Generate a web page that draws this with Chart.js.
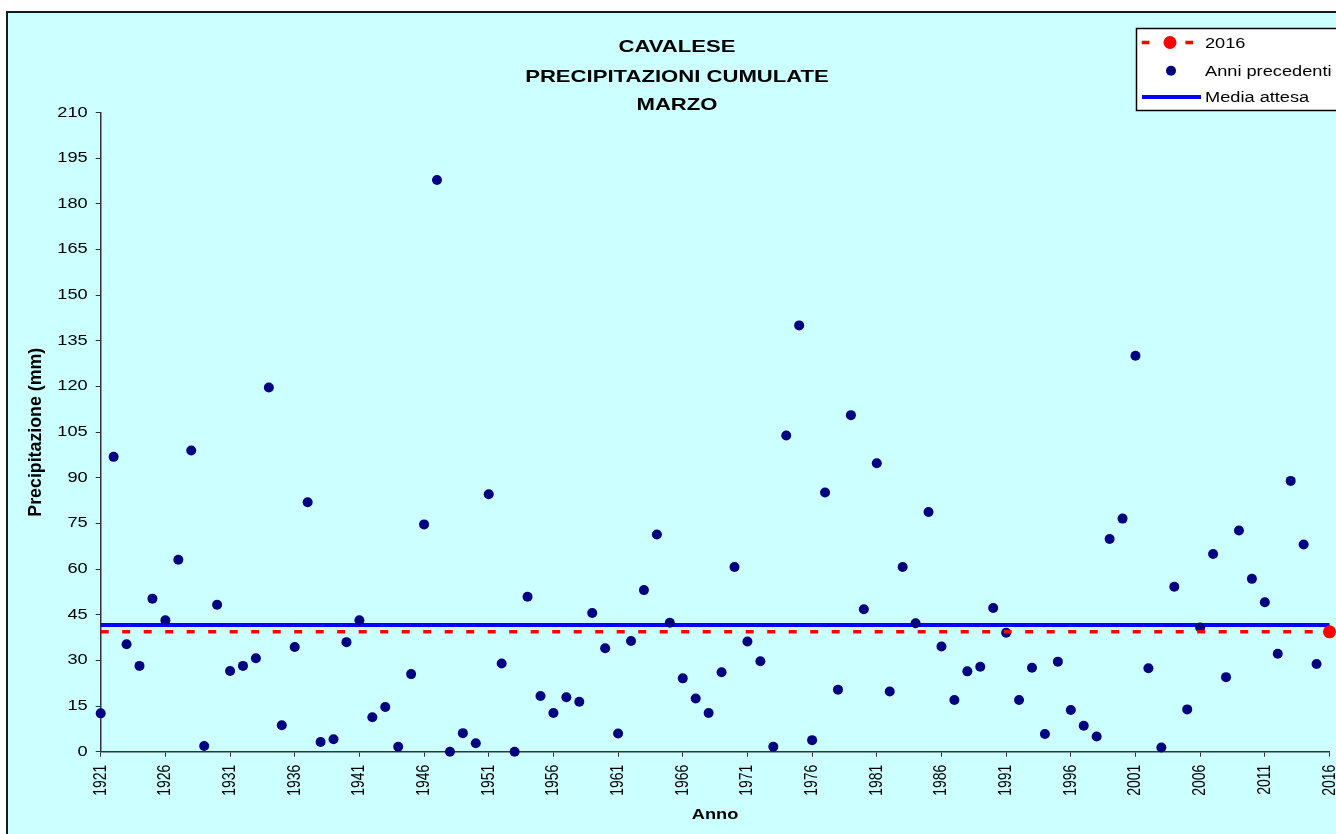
<!DOCTYPE html>
<html>
<head>
<meta charset="utf-8">
<script src="https://cdn.jsdelivr.net/npm/chart.js@4"></script>
<style>
html,body{margin:0;padding:0;background:#fff;}
#wrap{width:1336px;height:834px;position:relative;}
</style>
</head>
<body>
<div id="wrap"><canvas id="c"></canvas></div>
<script>
// ---------------- DATA ----------------
const years = [1921,1922,1923,1924,1925,1926,1927,1928,1929,1930,1931,1932,1933,1934,1935,1936,1937,1938,1939,1940,
1941,1942,1943,1944,1945,1946,1947,1948,1949,1950,1951,1952,1953,1954,1955,1956,1957,1958,1959,1960,
1961,1962,1963,1964,1965,1966,1967,1968,1969,1970,1971,1972,1973,1974,1975,1976,1977,1978,1979,1980,
1981,1982,1983,1984,1985,1986,1987,1988,1989,1990,1991,1992,1993,1994,1995,1996,1997,1998,1999,2000,
2001,2002,2003,2004,2005,2006,2007,2008,2009,2010,2011,2012,2013,2014,2015,2016];

// Anni precedenti: 1921 .. 2015
const anniPrecedenti = [12.6,96.9,35.3,28.2,50.3,43.2,63.1,99.0,1.9,48.3,
26.5,28.2,30.7,119.7,8.7,34.4,82.0,3.2,4.1,36.0,
43.2,11.3,14.7,1.6,25.5,74.7,187.9,0.0,6.1,2.8,
84.6,29.0,0.0,50.9,18.3,12.7,17.9,16.4,45.6,34.0,
6.0,36.4,53.1,71.4,42.4,24.1,17.5,12.7,26.1,60.7,
36.2,29.7,1.6,103.9,140.1,3.8,85.2,20.4,110.6,46.8,
94.8,19.8,60.7,42.2,78.8,34.6,17.0,26.4,27.9,47.2,
39.1,17.0,27.6,5.8,29.6,13.7,8.5,5.0,69.9,76.6,
130.1,27.4,1.4,54.2,13.9,40.8,65.0,24.5,72.7,56.8,
49.1,32.2,89.0,68.1,28.8];

const valore2016 = 39.4;
const mediaAttesa = 41.6;
const firstYear = '1921';
const lastYear = '2016';

const xTickYears = [1921,1926,1931,1936,1941,1946,1951,1956,1961,1966,1971,1976,1981,1986,1991,1996,2001,2006,2011,2016];
const yMin = 0, yMax = 210, yStep = 15;

const titleLines = ['CAVALESE','PRECIPITAZIONI CUMULATE','MARZO'];
const legendLabels = ['2016','Anni precedenti','Media attesa'];
const xTitle = 'Anno';
const yTitle = 'Precipitazione (mm)';

// ---------------- STYLE ----------------
const FONT = "'Liberation Sans', Arial, sans-serif";
const TEXT_SX = 1.3;        // horizontal text stretch of the reference picture
const YTITLE_LEN_SX = 1.27; // the rotated y title is also longer along its own direction
const RED = '#FF0000', NAVY = '#000080', BLUE = '#0000FF';

const canvas = document.getElementById('c');
const ctx = canvas.getContext('2d');
const origFill = ctx.fillText.bind(ctx);
ctx.fillText = function(text, x, y, maxWidth){
  let m = ctx.getTransform();
  if (text === yTitle) {
    m = m.multiply(new DOMMatrix([YTITLE_LEN_SX,0,0,1,x*(1-YTITLE_LEN_SX),0]));
  }
  const px = m.a * x + m.c * y + m.e;
  ctx.save();
  ctx.setTransform(new DOMMatrix([TEXT_SX,0,0,1,px*(1-TEXT_SX),0]).multiply(m));
  origFill(text, x, y);
  ctx.restore();
};

Chart.defaults.font.family = FONT;
Chart.defaults.color = '#000';

const bgPlugin = {
  id: 'bg',
  beforeDraw(chart){
    const c = chart.ctx, W = chart.width, H = chart.height;
    c.save();
    c.fillStyle = '#fff'; c.fillRect(0,0,W,H);
    c.fillStyle = '#CCFFFF'; c.fillRect(7,12,W-7,H-12);
    c.strokeStyle = '#1a1a1a'; c.lineWidth = 2;
    c.beginPath(); c.moveTo(7,H); c.lineTo(7,12); c.lineTo(W,12); c.stroke();
    c.restore();
  }
};

const decoPlugin = {
  id: 'deco',
  afterDraw(chart){
    const c = chart.ctx;
    c.save();
    // title
    c.fillStyle = '#000';
    c.font = 'bold 17px ' + FONT;
    c.textAlign = 'center';
    c.textBaseline = 'alphabetic';
    const ty = [52, 82, 110];
    titleLines.forEach((t,i) => c.fillText(t, 677, ty[i]));
    // legend box
    c.fillStyle = '#fff';
    c.fillRect(1136, 28, 220, 82);
    c.strokeStyle = '#000'; c.lineWidth = 1.5;
    c.strokeRect(1136.5, 28.5, 220, 82);
    const rows = [42.5, 70.7, 97];
    // 2016
    c.strokeStyle = RED; c.lineWidth = 3.5; c.setLineDash([7.7, 36]);
    c.beginPath(); c.moveTo(1141.7, rows[0]); c.lineTo(1200, rows[0]); c.stroke();
    c.setLineDash([]);
    c.fillStyle = RED; c.beginPath(); c.arc(1170, rows[0], 6.5, 0, Math.PI*2); c.fill();
    // anni precedenti
    c.fillStyle = NAVY; c.beginPath(); c.arc(1171, rows[1], 5, 0, Math.PI*2); c.fill();
    // media
    c.strokeStyle = BLUE; c.lineWidth = 4;
    c.beginPath(); c.moveTo(1142, rows[2]); c.lineTo(1201, rows[2]); c.stroke();
    // texts
    c.fillStyle = '#000';
    c.font = '14px ' + FONT;
    c.textAlign = 'left';
    c.textBaseline = 'middle';
    legendLabels.forEach((t,i) => c.fillText(t, 1205, rows[i] + 1.5));
    c.restore();
  }
};

new Chart(ctx, {
  type: 'line',
  data: {
    labels: years.map(String),
    datasets: [
      {
        label: legendLabels[0],
        data: [{x:firstYear, y:valore2016},{x:lastYear, y:valore2016}],
        borderColor: RED, borderWidth: 3.5, borderDash: [8,13.5],
        pointRadius: [0, 6.5], pointHoverRadius: [0, 6.5],
        pointBackgroundColor: RED, pointBorderColor: RED, pointBorderWidth: 0,
        clip: false, order: 0
      },
      {
        label: legendLabels[1],
        data: anniPrecedenti,
        showLine: false,
        pointRadius: 5, pointHoverRadius: 5,
        pointBackgroundColor: NAVY, pointBorderColor: NAVY, pointBorderWidth: 0,
        clip: false, order: 1
      },
      {
        label: legendLabels[2],
        data: [{x:firstYear, y:mediaAttesa},{x:lastYear, y:mediaAttesa}],
        borderColor: BLUE, borderWidth: 4, pointRadius: 0, pointHoverRadius: 0,
        clip: false, order: 2
      }
    ]
  },
  options: {
    responsive: true,
    maintainAspectRatio: false,
    animation: false,
    events: [],
    layout: { padding: { left: 0, top: 112.7, right: 5, bottom: 0 } },
    plugins: { legend: { display: false }, title: { display: false }, tooltip: { enabled: false } },
    scales: {
      x: {
        type: 'category',
        offset: false,
        afterBuildTicks: s => { s.ticks = s.ticks.filter(t => xTickYears.includes(years[t.value])); },
        afterFit: s => { s.height = 834 - 751.7; s.paddingLeft = 0; s.paddingRight = 0; },
        grid: { display: true, drawOnChartArea: false, drawTicks: true, tickLength: 5, color: '#333', lineWidth: 1, offset: false },
        border: { display: true, color: '#333', width: 1.5 },
        ticks: { autoSkip: false, minRotation: 90, maxRotation: 90, padding: 8, font: { size: 14 }, color: '#000' },
        title: { display: true, text: xTitle, font: { size: 14, weight: 'bold' }, color: '#000', padding: { top: 0, bottom: 10.6 } }
      },
      y: {
        min: yMin, max: yMax,
        afterFit: s => { s.width = 100.7; s.paddingTop = 0; s.paddingBottom = 0; },
        ticks: { stepSize: yStep, padding: 8, font: { size: 14 }, color: '#000' },
        grid: { display: true, drawOnChartArea: false, drawTicks: true, tickLength: 5, color: '#333', lineWidth: 1 },
        border: { display: true, color: '#333', width: 1.5 },
        title: { display: true, text: yTitle, font: { size: 14, weight: 'bold' }, color: '#000', padding: { top: 27.6, bottom: 0 } }
      }
    }
  },
  plugins: [bgPlugin, decoPlugin]
});
</script>
</body>
</html>
